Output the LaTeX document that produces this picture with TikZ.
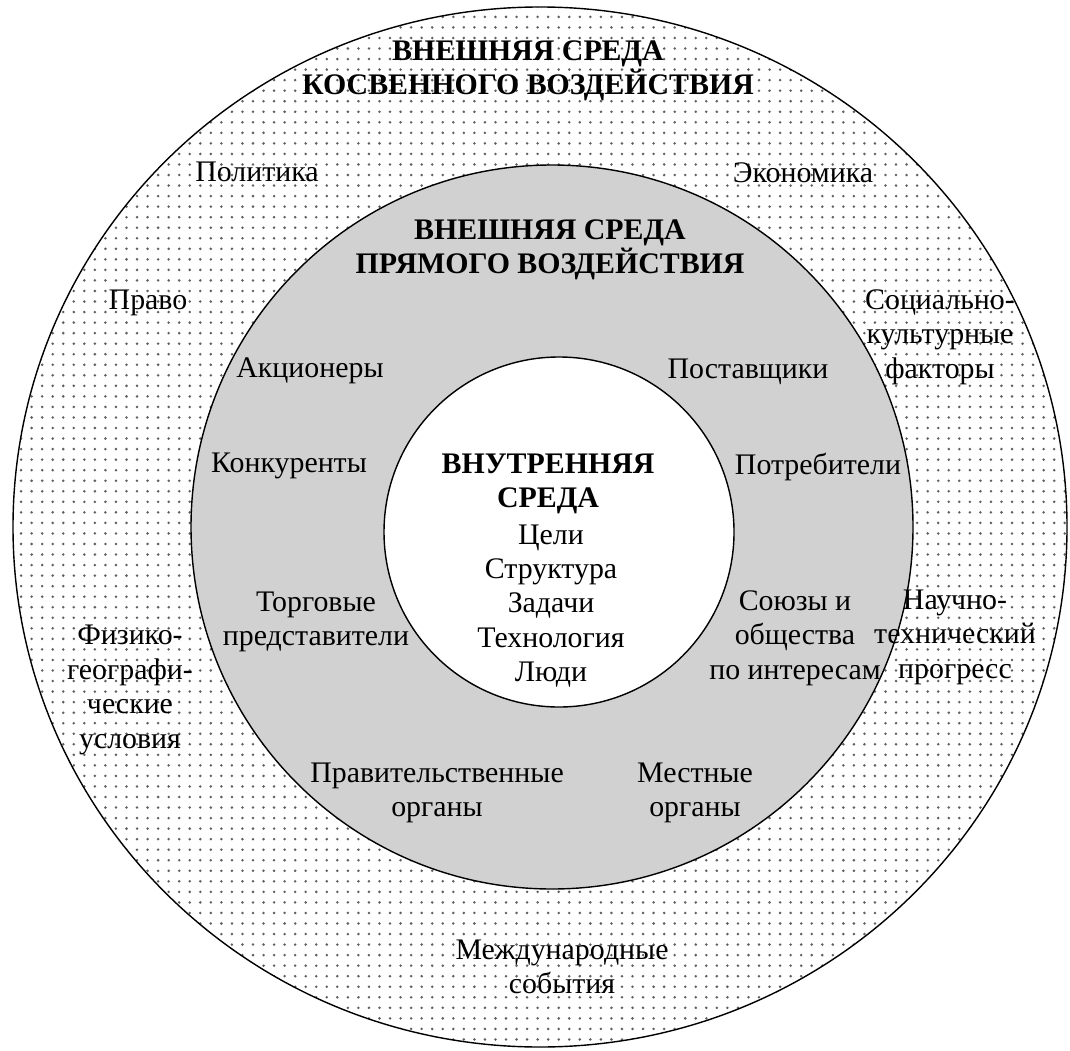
\documentclass[tikz,border=0pt]{standalone}
\usepackage{fontspec}
\setmainfont{Liberation Serif}
\usetikzlibrary{patterns.meta}

\begin{document}
\begin{tikzpicture}[x=0.02cm, y=-0.02cm,
    lbl/.style={align=center, inner sep=0, font=\fontsize{17}{19.6}\selectfont},
    hdr/.style={lbl, font=\fontsize{17}{19.6}\selectfont\bfseries}]
	\useasboundingbox (0, 0) rectangle (1070, 1050);
	% outer ring
	\fill[white] (540, 527) ellipse [x radius=527, y radius=520];
	\fill[pattern={Dots[distance=6pt, radius=0.8pt]}, pattern color=gray!75!black] (540, 527) ellipse [x radius=527, y radius=520];
	\draw[line width=0.8pt] (540, 527) ellipse [x radius=527, y radius=520];
	% middle ring
	\filldraw[fill=gray!36, line width=0.8pt] (552, 527) ellipse [x radius=361, y radius=362];
	% inner circle
	\filldraw[fill=white, line width=0.8pt] (559, 532) ellipse [x radius=175, y radius=175];

    \node[hdr] (kosv) at (528, 71) {ВНЕШНЯЯ СРЕДА\\КОСВЕННОГО ВОЗДЕЙСТВИЯ};
    \node[hdr] (pryam) at (550, 250) {ВНЕШНЯЯ СРЕДА\\ПРЯМОГО ВОЗДЕЙСТВИЯ};
    \node[hdr] (vnutr) at (548, 484) {ВНУТРЕННЯЯ\\СРЕДА};
    \node[lbl] (sostav) at (551, 606) {Цели\\Структура\\Задачи\\Технология\\Люди};

    \node[lbl] (polit) at (257, 172) {Политика};
    \node[lbl] (econ) at (803, 173) {Экономика};
    \node[lbl] (pravo) at (148, 303) {Право};
    \node[lbl] (social) at (940, 337) {Социально-\\культурные\\факторы};
    \node[lbl] (fiz) at (130, 690) {Физико-\\географи-\\ческие\\условия};
    \node[lbl] (nauch) at (955, 637) {Научно-\\технический\\прогресс};
    \node[lbl] (mezhd) at (562, 967) {Международные\\события};

    \node[lbl] (akc) at (310, 371) {Акционеры};
    \node[lbl] (post) at (748, 372) {Поставщики};
    \node[lbl] (konk) at (289, 466) {Конкуренты};
    \node[lbl] (potr) at (818, 467) {Потребители};
    \node[lbl] (torg) at (316, 622) {Торговые\\представители};
    \node[lbl] (soyuz) at (795, 638) {Союзы и\\общества\\по интересам};
    \node[lbl] (prav) at (437, 793) {Правительственные\\органы};
    \node[lbl] (mest) at (695, 793) {Местные\\органы};
\end{tikzpicture}
\end{document}
